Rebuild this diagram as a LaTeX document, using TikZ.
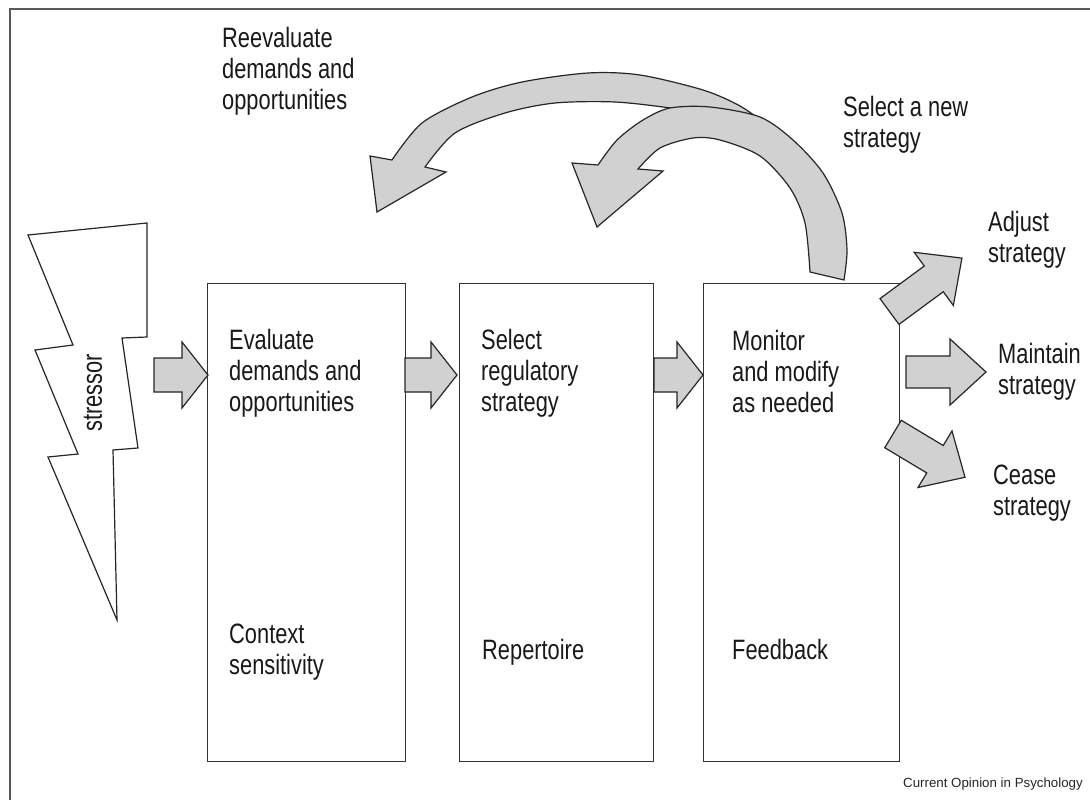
\documentclass[tikz,border=0pt]{standalone}
\usepackage{fontspec}
\setmainfont{Liberation Sans}[FakeStretch=0.78]
\newfontfamily\creditfont{Liberation Sans}
\tikzset{
  box/.style={draw=black!80, line width=1.3pt, fill=white, minimum width=#1, minimum height=478, anchor=north west, inner sep=0},
  lbl/.style={anchor=base west, align=left, inner sep=0, text=black!90, font=\fontsize{28}{31}\selectfont},
  barrow/.style={draw=black!85, fill=black!18, line width=1.2pt, line join=miter},
  frameline/.style={draw=black!65, line width=1.6pt}
}
\newcommand\blockarrow[5]{%
  \filldraw[barrow, shift={#1}, rotate=#2]
    (0,-#5) -- ({#3-#4},-#5) -- ({#3-#4},-33) -- (#3,0) -- ({#3-#4},33) -- ({#3-#4},#5) -- (0,#5) -- cycle;}
\begin{document}
\begin{tikzpicture}[x=1pt,y=-1pt]
\useasboundingbox (0,0) rectangle (1090,800);
\fill[white] (0,0) rectangle (1090,800);
% frame
\draw[frameline] (10,800) -- (10,9) -- (1090,9);

% boxes
\node[box=198] (b1) at (207,283) {};
\node[box=194] (b2) at (459,283) {};
\node[box=196] (b3) at (703,283) {};

% stressor bolt
\draw[draw=black!85, fill=white, line width=1.2pt, line join=miter]
  (28,235) -- (147,223) -- (147,337) -- (122,338) -- (138,448) -- (113,450)
  -- (117,620) -- (48,457) -- (78,454) -- (35,350) -- (73,345) -- cycle;
\node[rotate=90, inner sep=0, font=\fontsize{28}{31}\selectfont, text=black!90] (stressor) at (93,393) {stressor};

% straight block arrows
\coordinate (a0) at (154,375);
\coordinate (a1) at (405,375);
\coordinate (a2) at (654,375);
\coordinate (am) at (906,372);
\coordinate (aa) at (889.5,311.5);
\coordinate (ac) at (893,434);
\blockarrow{(a0)}{0}{54}{26}{17}
\blockarrow{(a1)}{0}{52}{26}{17}
\blockarrow{(a2)}{0}{49}{26}{17}
\blockarrow{(am)}{0}{80}{36}{16}
\blockarrow{(aa)}{36.4}{90}{35}{16}
\blockarrow{(ac)}{-31}{84}{35}{16}

% curved arrow A (to reevaluate)
\filldraw[barrow]
  (392,160) -- (370,156) -- (377,212) -- (446,172) -- (425,167)
  -- plot[smooth] coordinates {(425,167) (455,133) (505,113) (555,103) (615,102) (670,108) (690,113)}
  -- plot[smooth] coordinates {(770,127) (740,106) (703,90) (640,75) (588,73) (522,82) (472,97) (422,123) (392,160)}
  -- cycle;
% curved arrow B (select a new strategy)
\filldraw[barrow]
  (598,165) -- (572,163) -- (597,227) -- (663,171) -- (638,169)
  -- plot[smooth] coordinates {(638,169) (660,148) (693,138) (720,140) (760,156) (790,188) (805,223) (810,272)}
  -- (844,280)
  -- plot[smooth] coordinates {(844,280) (847,250) (842,213) (823,173) (793,140) (760,117) (710,107) (670,108) (643,120) (617,140) (598,165)}
  -- cycle;

% labels (anchor = baseline of last line)
\node[lbl] (reeval) at (222,109) {Reevaluate\\demands and\\opportunities};
\node[lbl] (selnew) at (843,147) {Select a new\\strategy};
\node[lbl] (eval) at (229,411) {Evaluate\\demands and\\opportunities};
\node[lbl] (selreg) at (481,411) {Select\\regulatory\\strategy};
\node[lbl] (monitor) at (732,412) {Monitor\\and modify\\as needed};
\node[lbl] (context) at (229,674) {Context\\sensitivity};
\node[lbl] (repert) at (482,659) {Repertoire};
\node[lbl] (feedb) at (732,659) {Feedback};
\node[lbl] (adjust) at (988,262) {Adjust\\strategy};
\node[lbl] (maintain) at (998,394) {Maintain\\strategy};
\node[lbl] (cease) at (993,515) {Cease\\strategy};
\node[anchor=base east, inner sep=0, text=black!85, font=\creditfont\fontsize{13.3}{15}\selectfont] (credit) at (1083,787) {Current Opinion in Psychology};
\end{tikzpicture}
\end{document}
